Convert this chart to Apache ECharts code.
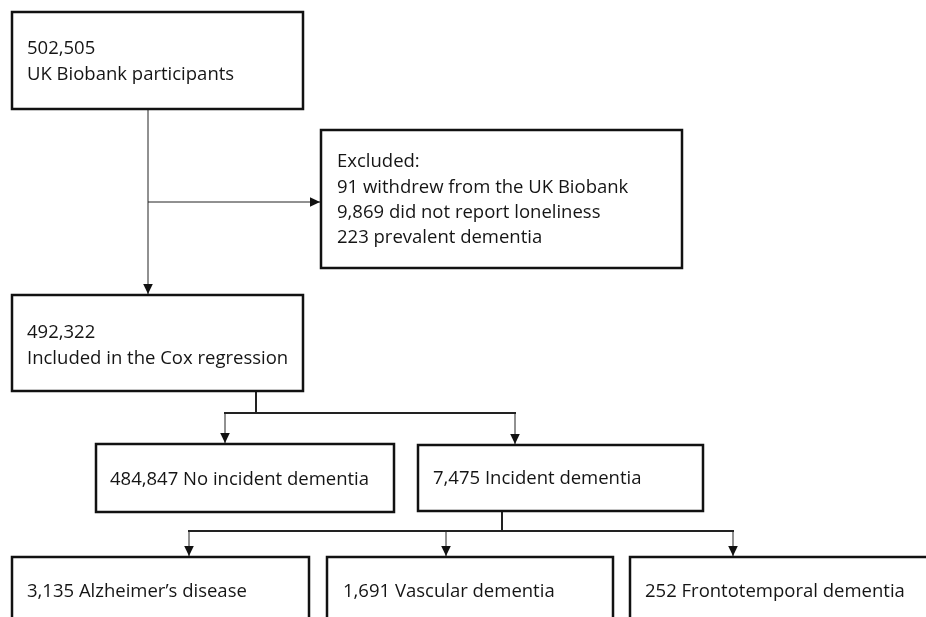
<!DOCTYPE html>
<html>
<head>
<meta charset="utf-8">
<script src="https://cdn.jsdelivr.net/npm/echarts@6/dist/echarts.min.js"></script>
<style>
  html, body { margin: 0; padding: 0; background: #fff; }
  #main { width: 926px; height: 617px; }
</style>
</head>
<body>
<div id="main"></div>
<script>
// flow counts and labels
var stageCounts = ['502,505', '492,322'];
var stageLabels = ['UK Biobank participants', 'Included in the Cox regression'];
var excludedTitle = 'Excluded:';
var excludedCounts = ['91', '9,869', '223'];
var excludedReasons = ['withdrew from the UK Biobank', 'did not report loneliness', 'prevalent dementia'];
var outcomeCounts = ['484,847', '7,475'];
var outcomeLabels = ['No incident dementia', 'Incident dementia'];
var subtypeCounts = ['3,135', '1,691', '252'];
var subtypeLabels = ['Alzheimer\u2019s disease', 'Vascular dementia', 'Frontotemporal dementia'];

// box layout in diagram units: [x0, y0, x1, y1, textLeftPad]
var boxLayout = [
  [12, 12, 303, 109, 15],
  [321, 130, 682, 268, 16],
  [12, 295, 303, 391, 15],
  [96, 444, 394, 512, 14],
  [418, 445, 703, 511, 15],
  [12, 557, 309, 660, 15],
  [327, 557, 613, 660, 16],
  [630, 557, 960, 660, 15]
];
var boxTextCenter = [61.5, 200, 345.5, 480, 479, 592, 592, 592];

// connector layout: points, arrow at end, stroke width
var linkLayout = [
  [[[148, 109], [148, 294]], true, 1],
  [[[148, 202], [320, 202]], true, 1],
  [[[256, 391], [256, 413]], false, 2],
  [[[224, 413], [516, 413]], false, 2],
  [[[225, 413], [225, 443]], true, 1],
  [[[515, 413], [515, 444]], true, 1],
  [[[502, 511], [502, 531]], false, 2],
  [[[188, 531], [734, 531]], false, 2],
  [[[189, 531], [189, 556]], true, 1],
  [[[446, 531], [446, 556]], true, 1],
  [[[733, 531], [733, 556]], true, 1]
];

// text lines per box, built from the arrays above
var boxLines = [
  [stageCounts[0], stageLabels[0]],
  [excludedTitle].concat(excludedCounts.map(function (c, i) { return c + ' ' + excludedReasons[i]; })),
  [stageCounts[1], stageLabels[1]],
  [outcomeCounts[0] + ' ' + outcomeLabels[0]],
  [outcomeCounts[1] + ' ' + outcomeLabels[1]]
].concat(subtypeCounts.map(function (c, i) { return [c + ' ' + subtypeLabels[i]]; }));

var FONT = '"Open Sans", "Noto Sans", sans-serif';
var FONT_SIZE = 18.5;
var LINE_H = 26;

var chart = echarts.init(document.getElementById('main'), null, { renderer: 'canvas' });

function renderBox(params, api) {
  var b = boxLayout[params.dataIndex];
  var p0 = api.coord([b[0], b[1]]);
  var p1 = api.coord([b[2], b[3]]);
  var lines = boxLines[params.dataIndex];
  var lh = params.dataIndex === 1 ? 25.4 : LINE_H;
  var cy = api.coord([0, boxTextCenter[params.dataIndex]])[1];
  var children = [{
    type: 'rect',
    shape: { x: p0[0], y: p0[1], width: p1[0] - p0[0], height: p1[1] - p0[1] },
    style: { fill: '#fff', stroke: '#111', lineWidth: 2.5 }
  }];
  var top = cy - (lines.length - 1) * lh / 2;
  for (var i = 0; i < lines.length; i++) {
    children.push({
      type: 'text',
      x: p0[0] + b[4],
      y: top + i * lh,
      style: {
        text: lines[i],
        font: FONT_SIZE + 'px ' + FONT,
        fill: '#151515',
        textAlign: 'left',
        textVerticalAlign: 'middle'
      }
    });
  }
  return { type: 'group', children: children };
}

function renderLink(params, api) {
  var l = linkLayout[params.dataIndex];
  var pts = l[0].map(function (p) { return api.coord(p); });
  var children = [{
    type: 'polyline',
    shape: { points: pts },
    style: { stroke: '#222', lineWidth: l[2], fill: null }
  }];
  if (l[1]) {
    var a = pts[pts.length - 2], e = pts[pts.length - 1];
    var dx = e[0] - a[0], dy = e[1] - a[1];
    var len = Math.sqrt(dx * dx + dy * dy);
    var ux = dx / len, uy = dy / len;
    var hl = 10, hw = 4.8;
    var bx = e[0] - ux * hl, by = e[1] - uy * hl;
    children.push({
      type: 'polygon',
      shape: { points: [[e[0], e[1]], [bx - uy * hw, by + ux * hw], [bx + uy * hw, by - ux * hw]] },
      style: { fill: '#111', stroke: null }
    });
  }
  return { type: 'group', children: children };
}

chart.setOption({
  animation: false,
  backgroundColor: '#fff',
  grid: { left: 0, right: 0, top: 0, bottom: 0 },
  xAxis: { type: 'value', min: 0, max: 926, show: false },
  yAxis: { type: 'value', min: 0, max: 617, inverse: true, show: false },
  series: [{
    type: 'custom',
    name: 'links',
    clip: false,
    silent: true,
    renderItem: renderLink,
    data: linkLayout.map(function (l, i) { return [i]; })
  }, {
    type: 'custom',
    name: 'boxes',
    clip: false,
    silent: true,
    renderItem: renderBox,
    data: boxLines.map(function (l, i) { return [i]; })
  }]
});
</script>
</body>
</html>
